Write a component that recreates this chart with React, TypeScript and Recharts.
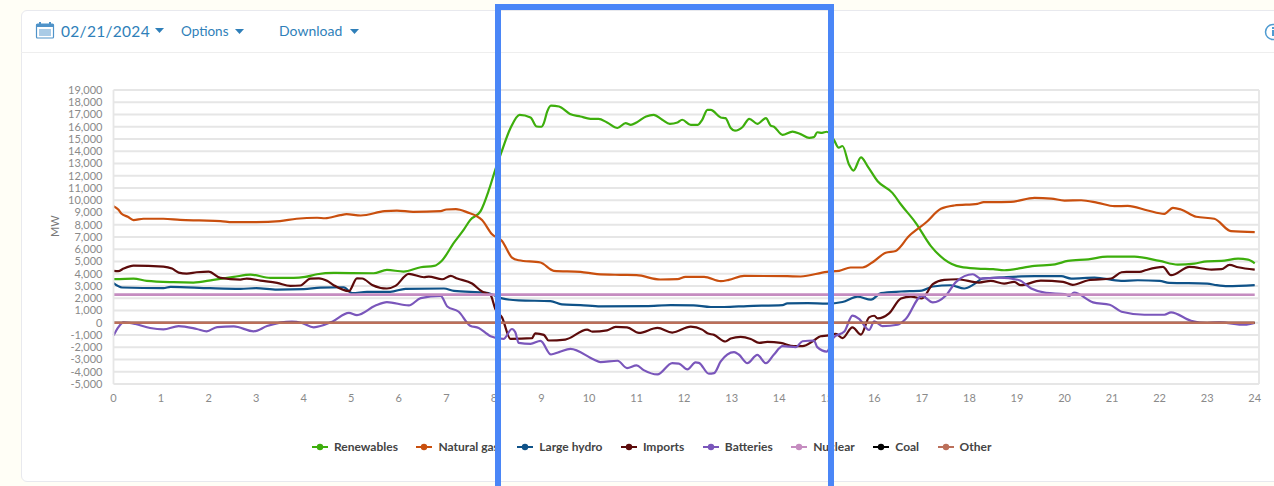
import { LineChart, Line, XAxis, YAxis, CartesianGrid, Legend, ReferenceLine } from "recharts";

type Pt = [number, number];

// [hour, MW]
const renewablesPts: Pt[] = [
  [0, 3554], [0.42, 3610], [0.7, 3420], [1.26, 3310], [1.68, 3283], [2.1, 3500], [2.53, 3740], [2.88, 3930],
  [3.3, 3660], [3.79, 3660], [4.03, 3740], [4.28, 3960], [4.63, 4070], [5.47, 4040], [5.75, 4310], [6.1, 4180],
  [6.46, 4530], [6.74, 4640], [6.9, 5045], [7.16, 6535], [7.37, 7620], [7.5, 8380], [7.72, 9115], [7.9, 10900],
  [8.03, 12500], [8.14, 13720], [8.35, 15890], [8.54, 16970], [8.77, 16760], [8.9, 16020], [9.0, 16000],
  [9.05, 16300], [9.12, 17240], [9.2, 17730], [9.37, 17650], [9.6, 17050], [9.82, 16840], [10.03, 16650],
  [10.2, 16650], [10.38, 16350], [10.6, 15900], [10.77, 16300], [10.88, 16150], [11.0, 16350], [11.2, 16840],
  [11.36, 16970], [11.54, 16570], [11.7, 16240], [11.86, 16350], [11.96, 16570], [12.14, 16150], [12.28, 16150],
  [12.38, 16570], [12.49, 17380], [12.56, 17380], [12.77, 16760], [12.87, 16700], [12.98, 15900], [13.07, 15680],
  [13.23, 15980], [13.37, 16650], [13.54, 16240], [13.72, 16700], [13.82, 16100], [13.89, 16000], [14.07, 15340],
  [14.28, 15610], [14.45, 15400], [14.63, 15100], [14.73, 15150], [14.8, 15550], [14.9, 15500], [15.0, 15590],
  [15.15, 14930], [15.25, 14290], [15.33, 14430], [15.47, 12900], [15.56, 12420], [15.72, 13500], [15.86, 12770],
  [16.07, 11550], [16.38, 10600], [16.56, 9650], [16.87, 8160], [17.19, 6260], [17.47, 5180], [17.82, 4555],
  [18.17, 4420], [18.5, 4370], [18.73, 4285], [19.37, 4640], [19.8, 4770], [20.07, 5045], [20.5, 5180], [20.9, 5400],
  [21.47, 5400], [22.0, 5045], [22.38, 4750], [22.73, 4830], [23.0, 5015], [23.3, 5045], [23.65, 5230], [23.86, 5150],
  [24, 4855],
];

const naturalGasPts: Pt[] = [
  [0, 9516], [0.1, 9245], [0.17, 8900], [0.3, 8650], [0.42, 8380], [0.63, 8490], [1.05, 8490], [1.4, 8400],
  [1.8, 8350], [2.25, 8300], [2.5, 8210], [3.0, 8210], [3.5, 8300], [3.85, 8490], [4.28, 8570], [4.45, 8530],
  [4.77, 8780], [4.9, 8860], [5.2, 8757], [5.7, 9110], [5.96, 9160], [6.3, 9055], [6.88, 9110], [7.0, 9245],
  [7.2, 9270], [7.43, 9030], [7.75, 8384], [7.96, 7220], [8.17, 6680], [8.38, 5320], [8.52, 5100], [8.98, 4915],
  [9.26, 4240], [9.82, 4156], [10.17, 3970], [10.66, 3910], [11.0, 3885], [11.5, 3530], [11.86, 3560], [12.03, 3750],
  [12.42, 3750], [12.77, 3400], [12.94, 3500], [13.26, 3830], [14.17, 3800], [14.45, 3775], [15.0, 4156], [15.26, 4240],
  [15.5, 4510], [15.75, 4510], [16.0, 5045], [16.24, 5720], [16.45, 5860], [16.73, 7075], [17.08, 8160], [17.4, 9300],
  [17.68, 9570], [18.17, 9700], [18.3, 9840], [18.87, 9868], [19.37, 10190], [19.72, 10140], [20.0, 9975], [20.35, 10000],
  [20.7, 9787], [21.05, 9515], [21.33, 9540], [21.75, 9160], [22.1, 8890], [22.28, 9380], [22.45, 9245], [22.77, 8650],
  [23.15, 8490], [23.5, 7480], [24, 7400],
];

const largeHydroPts: Pt[] = [
  [0, 3230], [0.18, 2877], [1.05, 2820], [1.2, 2930], [2.03, 2820], [2.67, 2770], [3, 2820], [3.44, 2710], [4, 2740],
  [4.35, 2875], [4.84, 2900], [5.02, 2415], [5.33, 2525], [5.82, 2525], [6.14, 2770], [6.95, 2795], [7.16, 2600],
  [7.85, 2450], [8.17, 1990], [8.52, 1825], [9.19, 1770], [9.43, 1500], [9.82, 1445], [10.24, 1340], [11.2, 1365],
  [11.72, 1445], [12.2, 1420], [12.56, 1285], [12.84, 1285], [13.33, 1365], [14.07, 1445], [14.17, 1580], [14.6, 1610],
  [15.0, 1555], [15.33, 1690], [15.65, 2125], [15.93, 1880], [16.14, 2415], [16.56, 2550], [17.0, 2630], [17.23, 2960],
  [17.61, 3060], [17.89, 2795], [18.1, 3150], [18.28, 3610], [18.73, 3715], [19.37, 3800], [19.93, 3800], [20.14, 3610],
  [20.63, 3690], [21.19, 3420], [21.54, 3470], [22.0, 3420], [22.2, 3255], [23.0, 3200], [23.2, 3065], [23.43, 2985],
  [24, 3065],
];

const importsPts: Pt[] = [
  [0, 4230], [0.1, 4210], [0.21, 4420], [0.42, 4665], [1.05, 4584], [1.23, 4420], [1.37, 4095], [1.54, 4015], [1.75, 4120],
  [2.0, 4180], [2.25, 3660], [2.67, 3525], [2.8, 3610], [3.09, 3445], [3.44, 3255], [3.72, 3010], [3.93, 3040], [4.14, 3610],
  [4.32, 3630], [4.49, 3420], [4.63, 3065], [4.95, 2580], [5.12, 3630], [5.23, 3610], [5.44, 3090], [5.75, 2795], [5.93, 3010],
  [6.21, 3990], [6.53, 3715], [6.63, 3770], [6.91, 3550], [7.09, 3825], [7.23, 3610], [7.54, 3200], [7.75, 2550], [7.93, 2260],
  [8.03, 1120], [8.17, 440], [8.35, -1320], [8.8, -1260], [8.87, -860], [9.05, -990], [9.15, -1450], [9.5, -1370], [9.96, -560],
  [10.07, -720], [10.38, -620], [10.56, -340], [10.8, -370], [11.05, -830], [11.44, -420], [11.75, -800], [12.14, -320],
  [12.38, -560], [12.49, -860], [12.63, -990], [12.87, -1530], [12.98, -1290], [13.19, -1150], [13.4, -1320], [13.58, -1640],
  [13.75, -1560], [14.03, -1640], [14.31, -1910], [14.49, -1910], [14.73, -1450], [14.87, -1100], [15, -1050], [15.19, -910],
  [15.33, -1260], [15.54, -370], [15.72, -970], [15.89, 438], [16, 570], [16.07, 350], [16.31, 760], [16.56, 1980], [16.77, 2140],
  [17.0, 1980], [17.23, 3150], [17.47, 3500], [17.75, 3550], [18.2, 3283], [18.45, 3420], [18.73, 3200], [18.94, 3340],
  [19.08, 3065], [19.5, 3445], [19.97, 3340], [20.17, 3090], [20.5, 3470], [20.98, 3610], [21.2, 4120], [21.3, 4150], [21.58, 4150],
  [21.72, 4310], [22.07, 4555], [22.24, 3880], [22.63, 4555], [23.09, 4340], [23.3, 4370], [23.47, 4720], [23.65, 4530], [24, 4340],
];

const batteriesPts: Pt[] = [
  [0, -1050], [0.1, -375], [0.21, 30], [0.46, -100], [0.77, -430], [1.05, -540], [1.37, -270], [1.75, -510], [1.96, -700],
  [2.18, -350], [2.53, -300], [2.95, -700], [3.23, -270], [3.75, 85], [3.96, -20], [4.21, -375], [4.6, 85], [4.95, 810],
  [5.12, 630], [5.5, 1385], [5.75, 1680], [6.21, 1415], [6.46, 2010], [6.88, 2200], [7.02, 1330], [7.26, 900], [7.5, -240],
  [7.68, -430], [7.86, -920], [7.93, -1100], [8.2, -1320], [8.38, -510], [8.45, -780], [8.52, -1640], [8.77, -1720], [8.98, -1480],
  [9.2, -2590], [9.37, -2400], [9.61, -2130], [10.1, -3000], [10.24, -3215], [10.6, -3100], [10.8, -3700], [11.0, -3485],
  [11.15, -3865], [11.44, -4220], [11.75, -3300], [11.89, -3330], [12.07, -3810], [12.24, -3240], [12.31, -3270], [12.52, -4160],
  [12.63, -4110], [12.77, -3160], [13.05, -2400], [13.15, -2590], [13.33, -3300], [13.54, -2620], [13.72, -3300], [13.89, -2590],
  [14.07, -1910], [14.35, -1990], [14.49, -1510], [14.73, -1450], [14.8, -1990], [15.0, -2350], [15.15, -1180], [15.37, -720],
  [15.54, 580], [15.68, 310], [15.89, -590], [16.0, 110], [16.17, -270], [16.49, -160], [16.66, 300], [17.0, 2200], [17.23, 1660],
  [17.5, 2200], [17.72, 3340], [18.07, 3960], [18.24, 3610], [18.63, 3690], [19.05, 3470], [19.3, 2795], [19.61, 2440], [20.0, 2335],
  [20.1, 2200], [20.2, 2470], [20.6, 1660], [20.95, 1470], [21.2, 900], [21.68, 655], [22.1, 655], [22.24, 845], [22.66, 165],
  [23.0, -20], [23.26, 30], [23.79, -160], [24, -20],
];

const nuclearPts: Pt[] = [[0, 2300], [24, 2290]];
const coalPts: Pt[] = [[0, 0], [24, 0]];
const otherPts: Pt[] = [[0, 0], [24, 0]];

const xTicks = [0, 1, 2, 3, 4, 5, 6, 7, 8, 9, 10, 11, 12, 13, 14, 15, 16, 17, 18, 19, 20, 21, 22, 23, 24];
const yTicks = [
  -5000, -4000, -3000, -2000, -1000, 0, 1000, 2000, 3000, 4000, 5000, 6000, 7000, 8000, 9000, 10000, 11000, 12000, 13000,
  14000, 15000, 16000, 17000, 18000, 19000,
];

const SERIES = [
  { name: "Renewables", color: "#3dae0c", pts: renewablesPts, width: 2.2 },
  { name: "Natural gas", color: "#c94f0e", pts: naturalGasPts, width: 2.2 },
  { name: "Large hydro", color: "#0f5288", pts: largeHydroPts, width: 2.2 },
  { name: "Imports", color: "#5c0b0b", pts: importsPts, width: 2.2 },
  { name: "Batteries", color: "#7a56bb", pts: batteriesPts, width: 2.2 },
  { name: "Nuclear", color: "#c58cc0", pts: nuclearPts, width: 2.6 },
  { name: "Coal", color: "#000000", pts: coalPts, width: 2 },
  { name: "Other", color: "#bb6f5a", pts: otherPts, width: 2.6 },
];

const FONT = "Lato, sans-serif";
const LINK = "#2f7fb9";

function Caret({ x, y }: { x: number; y: number }) {
  return (
    <svg style={{ position: "absolute", left: x, top: y }} width={9} height={5}>
      <path d="M0 0H9L4.5 5Z" fill={LINK} />
    </svg>
  );
}

function HeaderText({ x, size, spacing, children }: { x: number; size: number; spacing?: number; children: string }) {
  return (
    <div style={{ position: "absolute", left: x, top: 21, lineHeight: "20px", fontFamily: FONT, fontSize: size, letterSpacing: spacing, color: LINK }}>
      {children}
    </div>
  );
}

function ChartLegend() {
  return (
    <div style={{ display: "flex", gap: 18.5, fontFamily: FONT, fontSize: 12, fontWeight: 700, color: "#444" }}>
      {SERIES.map((s) => (
        <span key={s.name} style={{ display: "inline-flex", alignItems: "center", gap: 6 }}>
          <svg width={16} height={10}>
            <line x1={0} x2={16} y1={5} y2={5} stroke={s.color} strokeWidth={2} />
            <circle cx={8} cy={5} r={3.2} fill={s.color} />
          </svg>
          {s.name}
        </span>
      ))}
    </div>
  );
}

export default function App() {
  return (
    <div style={{ position: "relative", width: 1274, height: 486, overflow: "hidden", background: "#fffef6" }}>
      <style>{"body{margin:0}"}</style>

      {/* card and toolbar */}
      <div style={{ position: "absolute", left: 21, top: 10, width: 1290, height: 470, background: "#fff", border: "1px solid #e8e9ee", borderRadius: 6 }} />
      <div style={{ position: "absolute", left: 21, top: 52, width: 1253, height: 1, background: "#eeeeee" }} />
      <svg style={{ position: "absolute", left: 35, top: 21 }} width={21} height={19}>
        <rect x={1.5} y={3} width={17} height={14} fill="#fff" stroke="#4f93c9" strokeWidth={1.2} rx={1} />
        <rect x={1.5} y={3} width={17} height={3} fill="#4f93c9" />
        <rect x={4} y={1} width={2} height={4} fill="#4f93c9" />
        <rect x={14} y={1} width={2} height={4} fill="#4f93c9" />
        <rect x={4} y={8} width={12} height={7} fill="#a9cbe6" />
      </svg>
      <HeaderText x={61} size={15.5} spacing={0.3}>02/21/2024</HeaderText>
      <Caret x={155} y={28} />
      <HeaderText x={181} size={13.5}>Options</HeaderText>
      <Caret x={235} y={29} />
      <HeaderText x={279} size={14}>Download</HeaderText>
      <Caret x={350} y={29} />
      <svg style={{ position: "absolute", left: 1262, top: 22 }} width={12} height={20}>
        <circle cx={11} cy={10} r={7.5} fill="none" stroke="#4f9bd1" strokeWidth={1.5} />
        <rect x={10} y={8} width={2} height={6} fill="#4f9bd1" />
        <rect x={10} y={5} width={2} height={2} fill="#4f9bd1" />
      </svg>

      <div style={{ position: "absolute", left: 0, top: 0 }}>
        <LineChart width={1274} height={486} margin={{ top: 90, right: 15, bottom: 62, left: 0 }}>
          <CartesianGrid vertical={false} stroke="#e6e6e6" strokeWidth={1.8} />
          <XAxis
            dataKey="hour"
            type="number"
            domain={[0, 24.09]}
            ticks={xTicks}
            interval={0}
            allowDuplicatedCategory={false}
            height={25}
            tickLine={false}
            tickMargin={4}
            axisLine={false}
            tick={{ fontSize: 11, fontFamily: FONT, fill: "#8a8a8a" }}
          />
          <YAxis
            type="number"
            domain={[-5000, 19000]}
            ticks={yTicks}
            interval={0}
            width={113.5}
            tickLine={false}
            tickMargin={5}
            axisLine={{ stroke: "#e6e6e6", strokeWidth: 1.8 }}
            tickFormatter={(v: number) => v.toLocaleString("en-US")}
            tick={{ fontSize: 11, fontFamily: FONT, fill: "#8a8a8a" }}
            label={{ value: "MW", angle: -90, position: "insideLeft", offset: 55, style: { fontSize: 11, fontFamily: FONT, fill: "#777" } }}
          />
          <ReferenceLine x={24.09} stroke="#e6e6e6" strokeWidth={1.8} />
          <Legend
            verticalAlign="bottom"
            content={() => <ChartLegend />}
            wrapperStyle={{ left: 312, bottom: 32, width: "auto" }}
          />
          {SERIES.map((s) => (
            <Line
              key={s.name}
              name={s.name}
              data={s.pts.map(([hour, mw]) => ({ hour, mw }))}
              dataKey="mw"
              stroke={s.color}
              strokeWidth={s.width}
              dot={false}
              type="monotone"
              isAnimationActive={false}
            />
          ))}
        </LineChart>
      </div>

      {/* blue highlight box drawn over the screenshot */}
      <div style={{ position: "absolute", left: 495, top: 4, width: 339, height: 500, boxSizing: "border-box", border: "6px solid #4a86f7" }} />
    </div>
  );
}
